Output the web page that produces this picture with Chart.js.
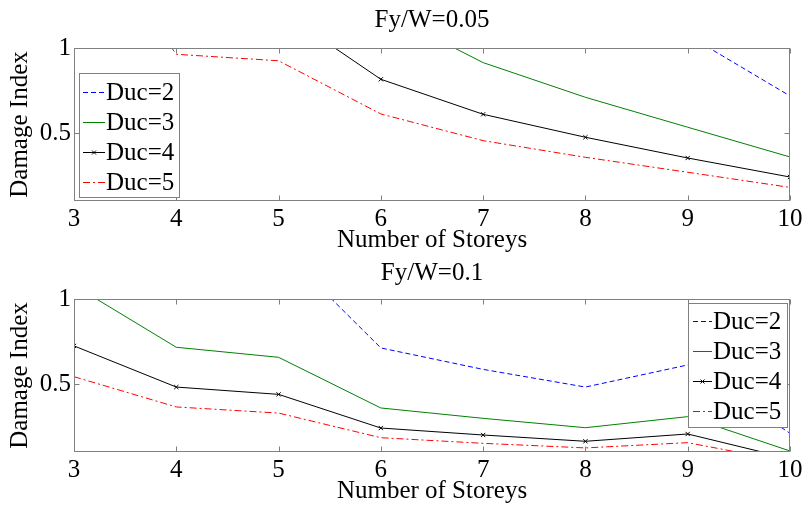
<!DOCTYPE html>
<html>
<head>
<meta charset="utf-8">
<script src="https://cdn.jsdelivr.net/npm/chart.js@4.4.1/dist/chart.umd.min.js"></script>
<style>
  html, body { margin: 0; padding: 0; background: #fff; }
  #wrap { position: relative; width: 806px; height: 506px; }
  canvas { position: absolute; left: 0; }
</style>
</head>
<body>
<div id="wrap">
  <canvas id="top" width="806" height="253" style="top:0"></canvas>
  <canvas id="bottom" width="806" height="253" style="top:253px"></canvas>
</div>
<script>
const storeys = [3, 4, 5, 6, 7, 8, 9, 10]
const ducLabels = ["Duc=2", "Duc=3", "Duc=4", "Duc=5"]
const yTickValues = [0.5, 1]

// Fy/W = 0.05
const top_duc2 = [3.0, 2.6, 2.2, 1.85, 1.55, 1.3, 1.075, 0.718]
const top_duc3 = [2.8, 2.2, 1.7, 1.22, 0.914, 0.71, 0.534, 0.359]
const top_duc4 = [2.2, 1.8, 1.225, 0.816, 0.61, 0.475, 0.353, 0.241]
const top_duc5 = [1.8, 0.963, 0.925, 0.612, 0.455, 0.357, 0.269, 0.18]

// Fy/W = 0.1
const bot_duc2 = [2.2, 1.8, 1.31, 0.712, 0.586, 0.482, 0.612, 0.21]
const bot_duc3 = [1.08, 0.716, 0.657, 0.359, 0.298, 0.243, 0.308, 0.106]
const bot_duc4 = [0.724, 0.482, 0.439, 0.241, 0.2, 0.163, 0.206, 0.06]
const bot_duc5 = [0.543, 0.365, 0.329, 0.184, 0.151, 0.124, 0.155, 0.04]

const FONT = "'Liberation Serif', 'Times New Roman', serif"

const styles = [
  { borderColor: "#0000ff", borderDash: [5, 3], pointRadius: 0 },
  { borderColor: "#008000", borderDash: [], pointRadius: 0 },
  { borderColor: "#000000", borderDash: [], pointRadius: 3, pointStyle: "crossRot" },
  { borderColor: "#ff0000", borderDash: [7, 3, 2, 3], pointRadius: 0 },
]

function makeDatasets(series) {
  return series.map((vals, i) => ({
    label: ducLabels[i],
    data: storeys.map((s, j) => ({ x: s, y: vals[j] })),
    borderWidth: 1,
    fill: false,
    tension: 0,
    pointBorderColor: styles[i].borderColor,
    pointBorderWidth: 1,
    pointHoverRadius: 0,
    ...styles[i],
  }))
}

// title centred over the plot area, frame with inward ticks, legend box inside
const matlabLook = {
  id: "matlabLook",
  afterDatasetsDraw(chart, args, opts) {
    const ctx = chart.ctx
    const a = chart.chartArea
    const xs = chart.scales.x, ys = chart.scales.y
    ctx.save()
    ctx.strokeStyle = "#808080"
    ctx.lineWidth = 1
    ctx.setLineDash([])
    const L = Math.round(a.left) + 0.5, R = Math.round(a.right) - 0.5
    const T = Math.round(a.top) + 0.5, B = Math.round(a.bottom) - 0.5
    ctx.strokeRect(L, T, R - L, B - T)
    ctx.beginPath()
    xs.ticks.forEach(t => {
      const px = Math.round(xs.getPixelForValue(t.value)) + 0.5
      ctx.moveTo(px, B); ctx.lineTo(px, B - 5)
      ctx.moveTo(px, T); ctx.lineTo(px, T + 5)
    })
    ys.ticks.forEach(t => {
      const py = Math.round(ys.getPixelForValue(t.value)) + 0.5
      ctx.moveTo(L, py); ctx.lineTo(L + 5, py)
      ctx.moveTo(R, py); ctx.lineTo(R - 5, py)
    })
    ctx.stroke()

    // title
    ctx.fillStyle = "#000"
    ctx.font = "25px " + FONT
    ctx.textAlign = "center"
    ctx.textBaseline = "alphabetic"
    ctx.fillText(opts.title, (a.left + a.right) / 2, opts.titleY)

    // legend
    const lg = opts.legend
    ctx.fillStyle = "#fff"
    ctx.fillRect(lg.x, lg.y, lg.w, lg.h)
    ctx.strokeStyle = "#808080"
    ctx.strokeRect(lg.x + 0.5, lg.y + 0.5, lg.w, lg.h)
    chart.data.datasets.forEach((ds, i) => {
      const cy = Math.round(lg.y + lg.first + i * lg.row) + 0.5
      ctx.strokeStyle = ds.borderColor
      ctx.setLineDash(ds.borderDash)
      ctx.beginPath()
      ctx.moveTo(lg.x + lg.s0, cy)
      ctx.lineTo(lg.x + lg.s1, cy)
      ctx.stroke()
      ctx.setLineDash([])
      if (ds.pointRadius > 0) {
        const mx = lg.x + (lg.s0 + lg.s1) / 2
        ctx.beginPath()
        ctx.moveTo(mx - 2, cy - 2); ctx.lineTo(mx + 2, cy + 2)
        ctx.moveTo(mx - 2, cy + 2); ctx.lineTo(mx + 2, cy - 2)
        ctx.stroke()
      }
      ctx.fillStyle = "#000"
      ctx.font = "25px " + FONT
      ctx.textAlign = "left"
      ctx.textBaseline = "middle"
      ctx.fillText(ds.label, lg.x + lg.s1 + 1, cy + 1)
    })
    ctx.restore()
  },
}

function makeChart(id, series, cfg) {
  return new Chart(document.getElementById(id), {
    type: "line",
    data: { datasets: makeDatasets(series) },
    plugins: [matlabLook],
    options: {
      responsive: false,
      animation: false,
      events: [],
      layout: { padding: { top: cfg.padTop, right: 16, left: 0, bottom: 0 } },
      scales: {
        x: {
          type: "linear",
          min: 3,
          max: 10,
          grid: { display: false, drawTicks: false },
          border: { display: false },
          ticks: { stepSize: 1, padding: cfg.xTickPad, color: "#000", font: { family: FONT, size: 25 }, maxRotation: 0, autoSkip: false },
          title: { display: true, text: "Number of Storeys", color: "#000", font: { family: FONT, size: 25 }, padding: { top: 0, bottom: cfg.xTitlePad } },
          afterFit(s) { s.height = cfg.xAxisH },
        },
        y: {
          type: "linear",
          min: 0.1,
          max: 1,
          grid: { display: false, drawTicks: false },
          border: { display: false },
          afterBuildTicks(s) { s.ticks = yTickValues.map(v => ({ value: v })) },
          ticks: { padding: 3, color: "#000", font: { family: FONT, size: 25 }, callback: v => String(v) },
          title: { display: true, text: "Damage Index", color: "#000", font: { family: FONT, size: 25 }, padding: { top: 5, bottom: 0 } },
          afterFit(s) { s.width = 74 },
        },
      },
      plugins: {
        legend: { display: false },
        title: { display: false },
        tooltip: { enabled: false },
        matlabLook: { title: cfg.title, titleY: 27, legend: cfg.legend },
      },
    },
  })
}

makeChart("top", [top_duc2, top_duc3, top_duc4, top_duc5], {
  title: "Fy/W=0.05",
  padTop: 48,
  xAxisH: 52,
  xTickPad: 3,
  xTitlePad: -2,
  legend: { x: 79, y: 73, w: 100, h: 124, first: 18.7, row: 30, s0: 4, s1: 26 },
})

makeChart("bottom", [bot_duc2, bot_duc3, bot_duc4, bot_duc5], {
  title: "Fy/W=0.1",
  padTop: 46,
  xAxisH: 54,
  xTickPad: 3,
  xTitlePad: 0,
  legend: { x: 688, y: 50, w: 99, h: 124, first: 17.5, row: 30, s0: 5, s1: 24 },
})
</script>
</body>
</html>
